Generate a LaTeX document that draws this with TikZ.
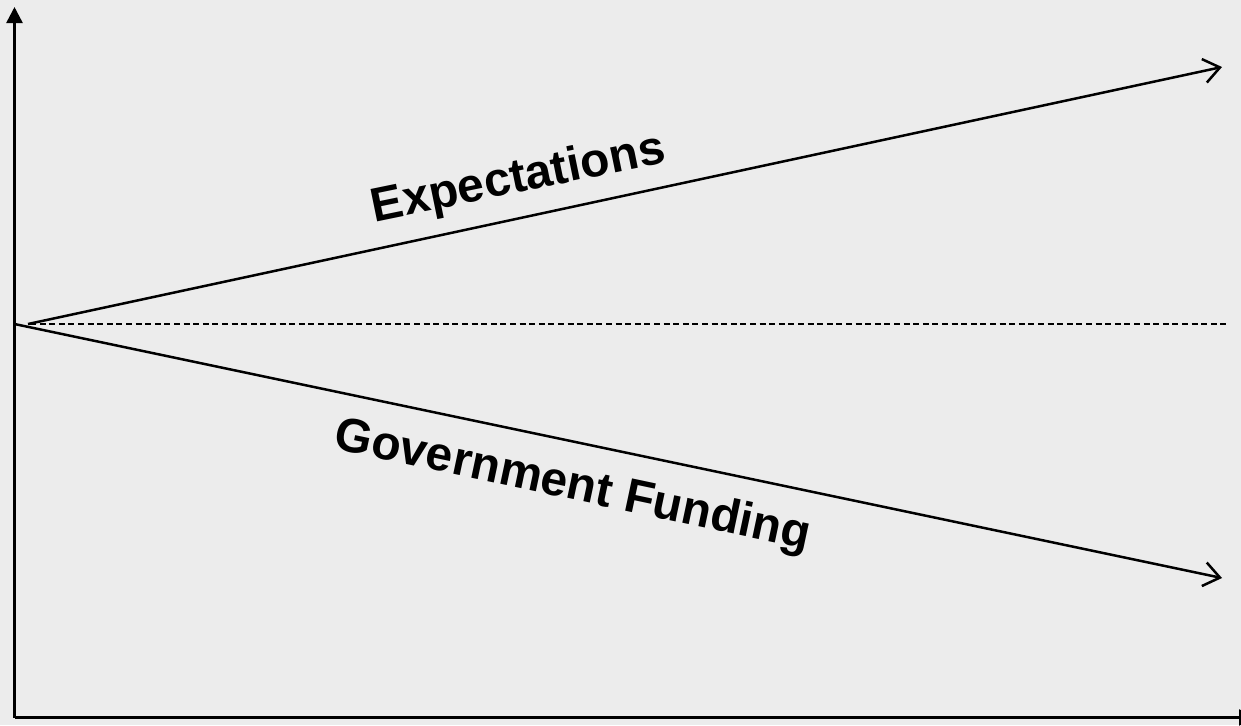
\documentclass[tikz,border=0pt]{standalone}
\usepackage{fontspec}
\setmainfont{Liberation Sans}
\usetikzlibrary{arrows.meta, positioning}

\definecolor{bggray}{HTML}{ECECEC}

\tikzset{
    axis/.style={line width=1.25pt, -{Triangle[length=8pt, width=8pt]}},
    trend/.style={line width=1.25pt, -{Straight Barb[length=8pt, width=12pt, line width=1.25pt]}},
    level/.style={line width=0.8pt, dash pattern=on 3pt off 1.8pt},
    tag/.style={font=\fontsize{24}{28}\selectfont\bfseries, inner sep=0pt, anchor=base}
}

\begin{document}
\begin{tikzpicture}[x=0.5pt, y=-0.5pt]
            \fill[bggray] (0,0) rectangle (1241,725);
            \useasboundingbox (0,0) rectangle (1241,725);
            \clip (0,0) rectangle (1241,725);

            \coordinate (o) at (14.5,717.5);
            \coordinate (top) at (14.5,7);
            \coordinate (right) at (1255,717.5);
            \coordinate (start) at (14.5,324);
            \coordinate (start2) at (28,324);
            \coordinate (dstart) at (30,324);
            \coordinate (dend) at (1226,324);
            \coordinate (up) at (1222,67);
            \coordinate (down) at (1222,578);

            \draw[axis] (o) -- (top);
            \draw[axis] (o) -- (right);

            \draw[level] (dstart) -- (dend);
            \draw[trend] (start2) -- (up);
            \draw[trend] (start) -- (down);

            \node[tag, rotate=11.6] (expect) at (521,192) {Expectations};
            \node[tag, rotate=-12] (funding) at (570,499) {Government Funding};
        \end{tikzpicture}
\end{document}
